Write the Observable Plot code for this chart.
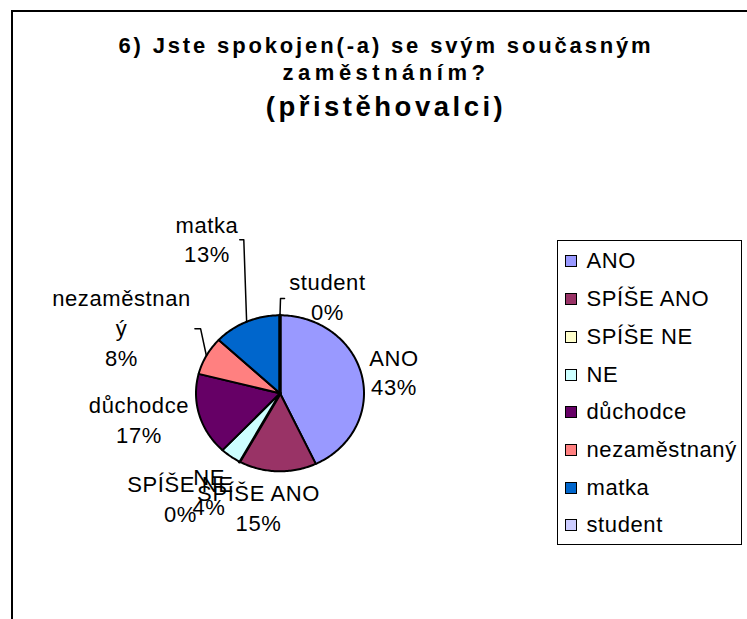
<!DOCTYPE html>
<html>
<head>
<meta charset="utf-8">
<script src="https://cdn.jsdelivr.net/npm/d3@7"></script>
<script src="https://cdn.jsdelivr.net/npm/@observablehq/plot@0.6"></script>
<style>
  html, body { margin: 0; padding: 0; background: #fff; }
  body { width: 747px; height: 619px; overflow: hidden; position: relative;
         font-family: "Liberation Sans", Arial, sans-serif; }
  #chart { position: absolute; left: 0; top: 0; }
  #frame { position: absolute; left: 11px; top: 10px; width: 760px; height: 700px;
           border: 2px solid #000; box-sizing: border-box; pointer-events: none; }
  .title { position: absolute; left: 0; width: 772px; text-align: center; font-weight: bold;
           white-space: nowrap; color: #000; }
  #legend { position: absolute; left: 557px; top: 240px; width: 185px; height: 305px;
            box-sizing: border-box; border: 1.5px solid #000; background: #fff; padding-top: 1.6px; }
  .item { height: 37.7px; display: flex; align-items: center; font-size: 22px; letter-spacing: 0.6px;
          white-space: nowrap; }
  .sw { width: 12px; height: 12px; box-sizing: border-box; border: 1.5px solid #000;
        margin-left: 6.5px; margin-right: 10px; flex: none; }
</style>
</head>
<body>
<div id="chart"></div>
<div id="frame"></div>
<div class="title" id="t1" style="top:34.9px;font-size:22px;line-height:22px;letter-spacing:2.85px;">6) Jste spokojen(-a) se svým současným</div>
<div class="title" id="t2" style="top:62.1px;font-size:22px;line-height:22px;letter-spacing:4.5px;">zaměstnáním?</div>
<div class="title" id="t3" style="top:92.8px;font-size:27.5px;line-height:27.5px;letter-spacing:3.5px;">(přistěhovalci)</div>
<div id="legend"></div>
<script>
// ---- data ----
const categories = ["ANO", "SPÍŠE ANO", "SPÍŠE NE", "NE", "důchodce", "nezaměstnaný", "matka", "student"];
const percents   = [43, 15, 0, 4, 17, 8, 13, 0];
const colors     = ["#9999FF", "#993366", "#FFFFCC", "#CCFFFF", "#660066", "#FF8080", "#0066CC", "#CCCCFF"];

// ---- layout (pie radius units; label = centre x, last-line baseline) ----
const labelX = [1.357, -0.256, -1.185, -0.845, -1.679, -1.887, -0.869, 0.565];
const labelY = [-0.028, -1.759, -1.650, -1.564, -0.641, 0.356, 1.677, 0.946];
const leaderCats = ["nezaměstnaný", "matka", "student"];
const leaderElbows = [
  [[-1.013, 0.826], [-0.945, 0.826]],
  [[-0.479, 1.968], [-0.431, 1.968]],
  [[0.054, 1.214], [0.006, 1.214]]
];

// ---- geometry from data ----
let cum = 0;
const slices = categories.map((c, i) => {
  const a0 = cum / 100 * 2 * Math.PI;
  cum += percents[i];
  const a1 = cum / 100 * 2 * Math.PI;
  return {c, v: percents[i], a0, a1, mid: (a0 + a1) / 2};
});
const piePts = [];
slices.forEach(s => {
  piePts.push({c: s.c, v: s.v, x: 0, y: 0});
  const n = Math.max(1, Math.ceil((s.a1 - s.a0) / (Math.PI / 180)));
  for (let k = 0; k <= n; k++) {
    const a = s.a0 + (s.a1 - s.a0) * k / n;
    piePts.push({c: s.c, v: s.v, x: Math.sin(a), y: Math.cos(a)});
  }
  piePts.push({c: s.c, v: s.v, x: 0, y: 0});
});

function wrap(name) { return name.length > 11 ? name.slice(0, 11) + "\n" + name.slice(11) : name; }
const labels = slices.map((s, i) => ({
  text: wrap(s.c) + "\n" + Math.round(s.v) + "%",
  x: labelX[i], y: labelY[i]
}));

const leaderPts = [];
leaderCats.forEach((c, j) => {
  const s = slices.find(d => d.c === c);
  leaderElbows[j].forEach(p => leaderPts.push({k: c, x: p[0], y: p[1]}));
  leaderPts.push({k: c, x: Math.sin(s.mid), y: Math.cos(s.mid)});
});

const cx = 279.5, cy = 392.8, rx = 84, ry = 78;
const chart = Plot.plot({
  width: 747, height: 619,
  marginLeft: 0, marginRight: 0, marginTop: 0, marginBottom: 0,
  style: {background: "transparent", fontFamily: "'Liberation Sans', Arial, sans-serif"},
  x: {domain: [-1, 1], range: [cx - rx, cx + rx], axis: null},
  y: {domain: [-1, 1], range: [cy + ry, cy - ry], axis: null},
  color: {domain: categories, range: colors},
  marks: [
    Plot.line(piePts, {x: "x", y: "y", z: "c", fill: "c", stroke: "#000",
      strokeWidth: d => d.v === 0 ? 3.5 : 2, strokeLinejoin: "round"}),
    Plot.line(leaderPts, {x: "x", y: "y", z: "k", stroke: "#000", strokeWidth: 1.5}),
    Plot.text(labels, {x: "x", y: "y", text: "text", lineAnchor: "bottom", lineHeight: 1.36,
      fontSize: 22, fill: "#000", textAnchor: "middle"})
  ]
});
document.getElementById("chart").appendChild(chart);
d3.select(chart).selectAll("text").style("letter-spacing", "0.6px");

// ---- legend ----
const legend = d3.select("#legend");
categories.forEach((c, i) => {
  const it = legend.append("div").attr("class", "item");
  it.append("div").attr("class", "sw").style("background", colors[i]);
  it.append("span").text(c);
});
</script>
</body>
</html>
